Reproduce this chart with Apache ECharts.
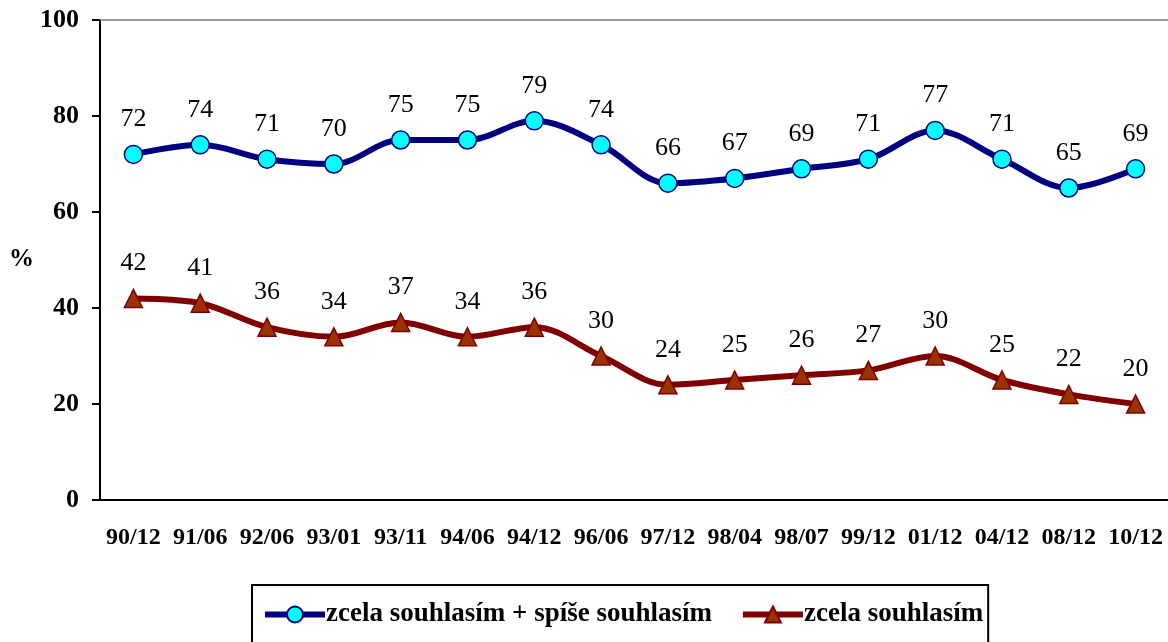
<!DOCTYPE html>
<html>
<head>
<meta charset="utf-8">
<script src="https://cdn.jsdelivr.net/npm/echarts@6/dist/echarts.min.js"></script>
<style>
  html, body { margin: 0; padding: 0; background: #fff; }
  #chart { width: 1168px; height: 642px; }
</style>
</head>
<body>
<div id="chart"></div>
<script>
var categories = ["90/12", "91/06", "92/06", "93/01", "93/11", "94/06", "94/12", "96/06",
  "97/12", "98/04", "98/07", "99/12", "01/12", "04/12", "08/12", "10/12"];
var agreeTotal = [72, 74, 71, 70, 75, 75, 79, 74, 66, 67, 69, 71, 77, 71, 65, 69];
var agreeFully = [42, 41, 36, 34, 37, 34, 36, 30, 24, 25, 26, 27, 30, 25, 22, 20];
var yTicks = [0, 20, 40, 60, 80, 100];

var serif = "'Liberation Serif', 'Times New Roman', serif";

var chart = echarts.init(document.getElementById("chart"));

var labelStyle = {
  show: true,
  position: "top",
  distance: 12,
  fontFamily: serif,
  fontSize: 26,
  color: "#000"
};

chart.setOption({
  animation: false,
  grid: { left: 100, top: 20, right: -1, bottom: 142, outerBoundsMode: "none" },
  legend: {
    top: 585,
    left: 252,
    width: 735,
    padding: [16, 5, 30, 10],
    borderColor: "#000",
    borderWidth: 2,
    borderRadius: 0,
    itemWidth: 60,
    itemHeight: 20,
    itemGap: 28,
    lineStyle: { width: 6 },
    textStyle: { fontFamily: serif, fontWeight: "bold", fontSize: 27, color: "#000", padding: [0, 0, 0, -4] },
    data: ["zcela souhlasím + spíše souhlasím", "zcela souhlasím"]
  },
  xAxis: {
    type: "category",
    data: categories,
    boundaryGap: true,
    axisLine: { lineStyle: { color: "#000", width: 2 } },
    axisTick: { interval: 0, length: 8, lineStyle: { color: "#000", width: 2 } },
    axisLabel: {
      interval: 0,
      margin: 26,
      fontFamily: serif,
      fontWeight: "bold",
      fontSize: 24,
      color: "#000"
    }
  },
  yAxis: {
    type: "value",
    min: 0,
    max: 100,
    interval: 20,
    name: "%",
    nameLocation: "middle",
    nameRotate: 0,
    nameGap: 66,
    nameTextStyle: { fontFamily: serif, fontWeight: "bold", fontSize: 25, color: "#000" },
    axisLine: { show: true, lineStyle: { color: "#000", width: 2 } },
    axisTick: { show: true, length: 8, lineStyle: { color: "#000", width: 2 } },
    splitLine: { show: false },
    axisLabel: {
      margin: 21,
      fontFamily: serif,
      fontWeight: "bold",
      fontSize: 26,
      color: "#000",
      formatter: function (v) { return yTicks.indexOf(v) >= 0 ? String(v) : ""; }
    }
  },
  series: [
    {
      name: "zcela souhlasím + spíše souhlasím",
      type: "line",
      data: agreeTotal,
      smooth: 0.35,
      symbol: "circle",
      symbolSize: 18,
      lineStyle: { color: "#000080", width: 6 },
      itemStyle: { color: "#00FFFF", borderColor: "#000080", borderWidth: 1.5 },
      label: labelStyle,
      markLine: {
        silent: true,
        symbol: "none",
        label: { show: false },
        lineStyle: { color: "#808080", width: 1.5, type: "solid" },
        data: [{ yAxis: 100 }]
      }
    },
    {
      name: "zcela souhlasím",
      type: "line",
      data: agreeFully,
      smooth: 0.35,
      symbol: "triangle",
      symbolSize: 18,
      lineStyle: { color: "#800000", width: 6 },
      itemStyle: { color: "#993300", borderColor: "#800000", borderWidth: 1.5 },
      label: labelStyle
    }
  ]
});
</script>
</body>
</html>
